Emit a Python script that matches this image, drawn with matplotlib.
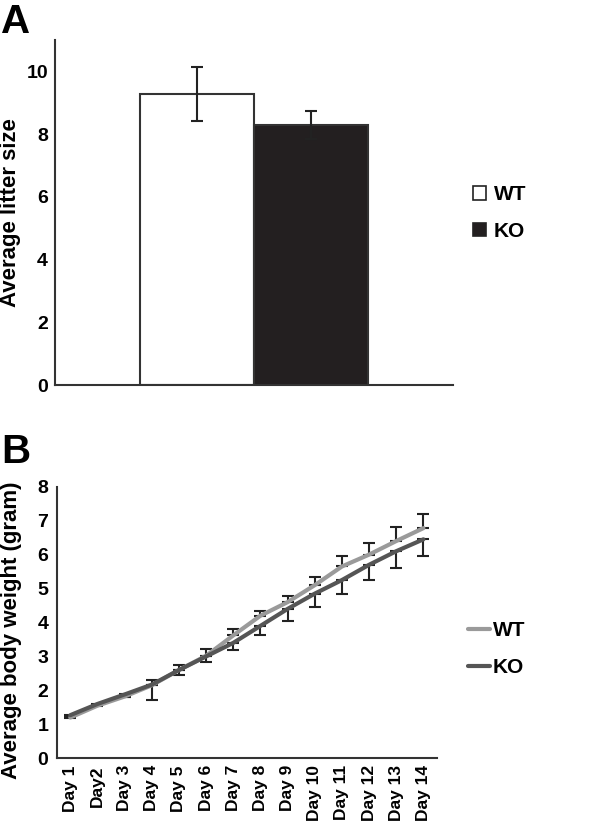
import numpy as np
import matplotlib
matplotlib.use('Agg')
import matplotlib.pyplot as plt
from matplotlib.patches import Patch

plt.rcParams['font.family'] = ['Liberation Sans', 'DejaVu Sans']
plt.rcParams['font.weight'] = 'bold'

# panel A data
groups = ['WT', 'KO']
litter_mean = [9.28, 8.29]
litter_err = [0.86, 0.46]

# panel B data
days = ['Day 1', 'Day2', 'Day 3', 'Day 4', 'Day 5', 'Day 6', 'Day 7',
        'Day 8', 'Day 9', 'Day 10', 'Day 11', 'Day 12', 'Day 13', 'Day 14']
wt_weight = [1.2, 1.55, 1.82, 2.15, 2.6, 3.02, 3.62, 4.2, 4.6, 5.1, 5.65, 6.0, 6.4, 6.78]
ko_weight = [1.27, 1.6, 1.88, 2.17, 2.6, 3.0, 3.4, 3.9, 4.4, 4.85, 5.25, 5.7, 6.1, 6.45]
wt_err = [0.03, 0.03, 0.05, 0.15, 0.15, 0.2, 0.18, 0.15, 0.18, 0.25, 0.3, 0.35, 0.4, 0.42]
ko_err = [0.03, 0.03, 0.08, 0.45, 0.15, 0.17, 0.2, 0.28, 0.35, 0.4, 0.4, 0.45, 0.5, 0.48]

axis_col = '#333333'
W, H = 594, 826
fig = plt.figure(figsize=(W / 100, H / 100), dpi=100)

def px_axes(left, top, right, bottom):
    return fig.add_axes([left / W, 1 - bottom / H, (right - left) / W, (bottom - top) / H])

# ---- A ----
ax = px_axes(55, 40, 453, 385)
x = np.arange(len(groups))
ax.bar(x, litter_mean, width=1.0, color=['white', '#231f20'], edgecolor=axis_col, linewidth=1.5)
ax.errorbar(x, litter_mean, yerr=litter_err, fmt='none', ecolor='#222222',
            elinewidth=1.5, capsize=4, capthick=1.5)
ax.set_xlim(-1.246, 2.246)
ax.set_ylim(0, 11)
ax.set_yticks([0, 2, 4, 6, 8, 10])
ax.set_xticks([])
ax.tick_params(axis='y', length=0, pad=5, labelsize=14)
for s in ['top', 'right']:
    ax.spines[s].set_visible(False)
for s in ['left', 'bottom']:
    ax.spines[s].set_color(axis_col)
    ax.spines[s].set_linewidth(1.5)
fig.text(11 / W, 1 - 213 / H, 'Average litter size', rotation=90, fontsize=16,
         fontweight='bold', ha='center', va='center')
handles = [Patch(facecolor='white', edgecolor='#222222', linewidth=1.2, label='WT'),
           Patch(facecolor='#231f20', edgecolor='#222222', linewidth=1.2, label='KO')]
ax.legend(handles=handles, loc='center left', bbox_to_anchor=(454 / W, 1 - 213 / H),
          bbox_transform=fig.transFigure, frameon=False, fontsize=15,
          handlelength=0.65, handleheight=0.65, handletextpad=0.35, labelspacing=0.85)
fig.text(1 / W, 1 - 3 / H, 'A', fontsize=29, fontweight='bold', va='top', ha='left')

# ---- B ----
bx = px_axes(56.7, 486.7, 437, 758.3)
xd = np.arange(len(days))
bx.errorbar(xd, wt_weight, yerr=[np.zeros(len(wt_err)), wt_err], fmt='none',
            ecolor='#222222', elinewidth=1.5, capsize=4, capthick=1.5)
bx.errorbar(xd, ko_weight, yerr=[ko_err, np.zeros(len(ko_err))], fmt='none',
            ecolor='#222222', elinewidth=1.5, capsize=4, capthick=1.5)
bx.plot(xd, wt_weight, color='#9a9a9a', linewidth=3, label='WT', solid_capstyle='round')
bx.plot(xd, ko_weight, color='#555555', linewidth=3, label='KO', solid_capstyle='round')
bx.set_xlim(-0.5, 13.5)
bx.set_ylim(0, 8)
bx.set_yticks(range(9))
bx.set_xticks(xd)
bx.set_xticklabels(days, rotation=90)
bx.tick_params(axis='y', length=0, pad=6, labelsize=14)
bx.tick_params(axis='x', length=0, pad=5, labelsize=12.5)
for s in ['top', 'right']:
    bx.spines[s].set_visible(False)
for s in ['left', 'bottom']:
    bx.spines[s].set_color(axis_col)
    bx.spines[s].set_linewidth(1.5)
fig.text(12 / W, 1 - 630 / H, 'Average body weight (gram)', rotation=90, fontsize=16,
         fontweight='bold', ha='center', va='center')
bx.legend(loc='center left', bbox_to_anchor=(449 / W, 1 - 649 / H),
          bbox_transform=fig.transFigure, frameon=False, fontsize=15,
          handlelength=1.05, handletextpad=0.15, labelspacing=0.85)
fig.text(1 / W, 1 - 433 / H, 'B', fontsize=29, fontweight='bold', va='top', ha='left')

fig.savefig('out.png', dpi=100)
